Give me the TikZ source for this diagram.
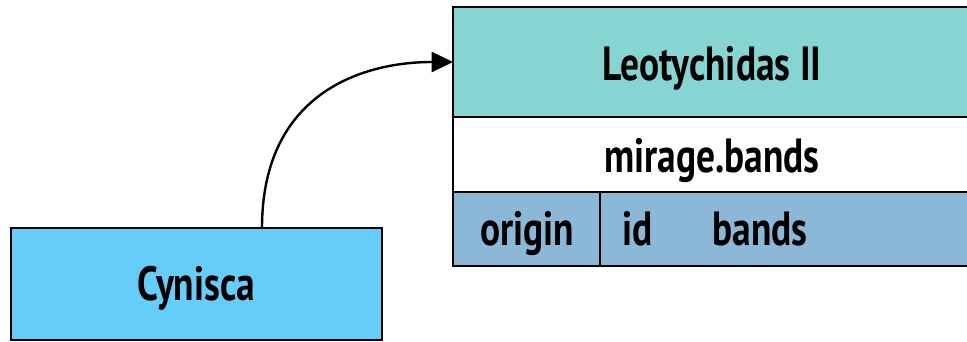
\documentclass[tikz,border=0pt]{standalone}
\usepackage{fontspec}
\setmainfont{PT Sans}[FakeStretch=0.78]
\usetikzlibrary{arrows.meta}
\definecolor{headc}{HTML}{87D5D2}
\definecolor{rowc}{HTML}{8BB8D6}
\definecolor{cyn}{HTML}{66CCFA}
\tikzset{
  px/.style={x=0.75pt,y=-0.75pt},
  cell/.style={draw=black,line width=1.5pt,inner sep=0pt},
  lbl/.style={font=\fontsize{36}{40}\selectfont\bfseries,inner sep=0pt,anchor=base},
}
\begin{document}
\begin{tikzpicture}[px]
\useasboundingbox (0,0) rectangle (967,342);
\clip (0,0) rectangle (967,342);
% table
\path[cell,fill=headc] (453,7) rectangle (990,117);
\path[cell,fill=white] (453,117) rectangle (990,192);
\path[cell,fill=rowc] (453,192) rectangle (600,266);
\path[cell,fill=rowc] (600,192) rectangle (990,266);
\node[lbl] (head) at (712,81) {Leotychidas II};
\node[lbl] (name) at (712,172) {mirage.bands};
\node[lbl] (orig) at (527,245) {origin};
\node[lbl] (idc) at (638,245) {id};
\node[lbl] (bands) at (760,245) {bands};
\coordinate (tin) at (453,62);
% cynisca
\node[cell,fill=cyn,minimum width=371*0.75pt,minimum height=112*0.75pt] (cyn) at (196,284) {};
\node[lbl] (cyntxt) at (196,300) {Cynisca};
\coordinate (cout) at (262,228);
\draw[line width=1.8pt,-{Triangle[length=16pt,width=15pt]}] (cout) .. controls (262,95) and (360,62) .. (tin);
\end{tikzpicture}
\end{document}
